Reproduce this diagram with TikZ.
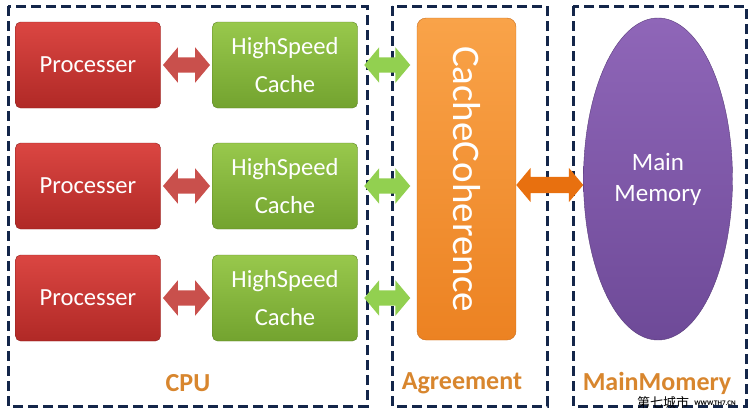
\documentclass[tikz,border=0pt]{standalone}
\usepackage{graphicx}
\usepackage{fontspec}
\setmainfont{Carlito}
\newfontfamily\cjk{Noto Sans CJK SC}
\usetikzlibrary{shapes.arrows,shapes.geometric,positioning,calc}

\definecolor{framenavy}{HTML}{14264A}
\definecolor{proctop}{HTML}{DB4642}
\definecolor{procbot}{HTML}{B02926}
\definecolor{cachetop}{HTML}{98C84C}
\definecolor{cachebot}{HTML}{73A32F}
\definecolor{cohtop}{HTML}{F9A349}
\definecolor{cohbot}{HTML}{EC8222}
\definecolor{memtop}{HTML}{8F66B8}
\definecolor{membot}{HTML}{6E4A98}
\definecolor{arrred}{HTML}{C9504C}
\definecolor{arrgreen}{HTML}{92D050}
\definecolor{arrorange}{HTML}{E8700F}
\definecolor{labelorange}{HTML}{D8862E}

\tikzset{
  frame/.style={draw=framenavy, line width=3pt, dash pattern=on 10pt off 5pt},
  box/.style={rounded corners=5pt, minimum width=145pt, minimum height=86pt,
    inner sep=0pt, align=center, text=white},
  procbox/.style={box, top color=proctop, bottom color=procbot, draw=procbot!80!black},
  cachebox/.style={box, top color=cachetop, bottom color=cachebot, draw=cachebot!80!black},
  blockarrow/.style={double arrow, inner sep=7.5pt, double arrow head extend=10pt,
    double arrow tip angle=100, draw=none},
  redarrow/.style={blockarrow, fill=arrred, minimum height=47pt},
  greenarrow/.style={blockarrow, fill=arrgreen, minimum height=46pt},
  framelabel/.style={text=labelorange, font=\fontsize{26}{26}\selectfont\bfseries}
}

\begin{document}
\begin{tikzpicture}[x=1pt, y=-1pt, font=\fontsize{24.6}{38}\selectfont]
\useasboundingbox (0,0) rectangle (750,413);

% dashed frames
\draw[frame] (8,6) rectangle (367,406);
\draw[frame] (392,6) rectangle (547,406);
\draw[frame] (573,6) rectangle (746,406);

% processers and caches
\foreach \i/\y in {1/65, 2/186, 3/298} {
  \node[procbox] (p\i) at (88,\y) {Processer};
  \node[cachebox] (c\i) at (285,\y) {HighSpeed\\Cache};
  \node[redarrow] (r\i) at ($(p\i.east)!0.5!(c\i.west)$) {};
}

% coherence and memory
\node[rounded corners=9pt, minimum width=99pt, minimum height=322pt, inner sep=0pt,
  top color=cohtop, bottom color=cohbot, draw=cohbot!85!black, text=white,
  font=\fontsize{39}{39}\selectfont] (coh) at (466.5,179)
  {\rotatebox{-90}{CacheCoherence}};
\node[ellipse, minimum width=149pt, minimum height=322pt, inner sep=0pt,
  top color=memtop, bottom color=membot, draw=membot!80!black, text=white,
  align=center, font=\fontsize{25}{31}\selectfont] (mem) at (658,179)
  {Main\\Memory};

% links
\foreach \i in {1,2,3}
  \node[greenarrow] (g\i) at ($(c\i.east)!0.5!(c\i.east -| coh.west)$) {};
\node[blockarrow, fill=arrorange, minimum height=67pt, inner sep=8pt,
  double arrow head extend=9pt] (o1) at ($(coh.east)!0.5!(mem.west)+(0,6)$) {};

% frame titles
\node[framelabel] (cpu) at (188,383) {CPU};
\node[framelabel] (agree) at (462,383) {Agreement};
\node[framelabel] (mainmem) at (657,383) {MainMomery};

% watermark
\node[font=\cjk\fontsize{13}{13}\selectfont, inner sep=0pt] (wm) at (663,403) {第七城市};
\node[font=\fontsize{7}{7}\selectfont\bfseries, inner sep=0pt, right=5pt of wm] (www) {WWW.TH7.CN};

\end{tikzpicture}
\end{document}
